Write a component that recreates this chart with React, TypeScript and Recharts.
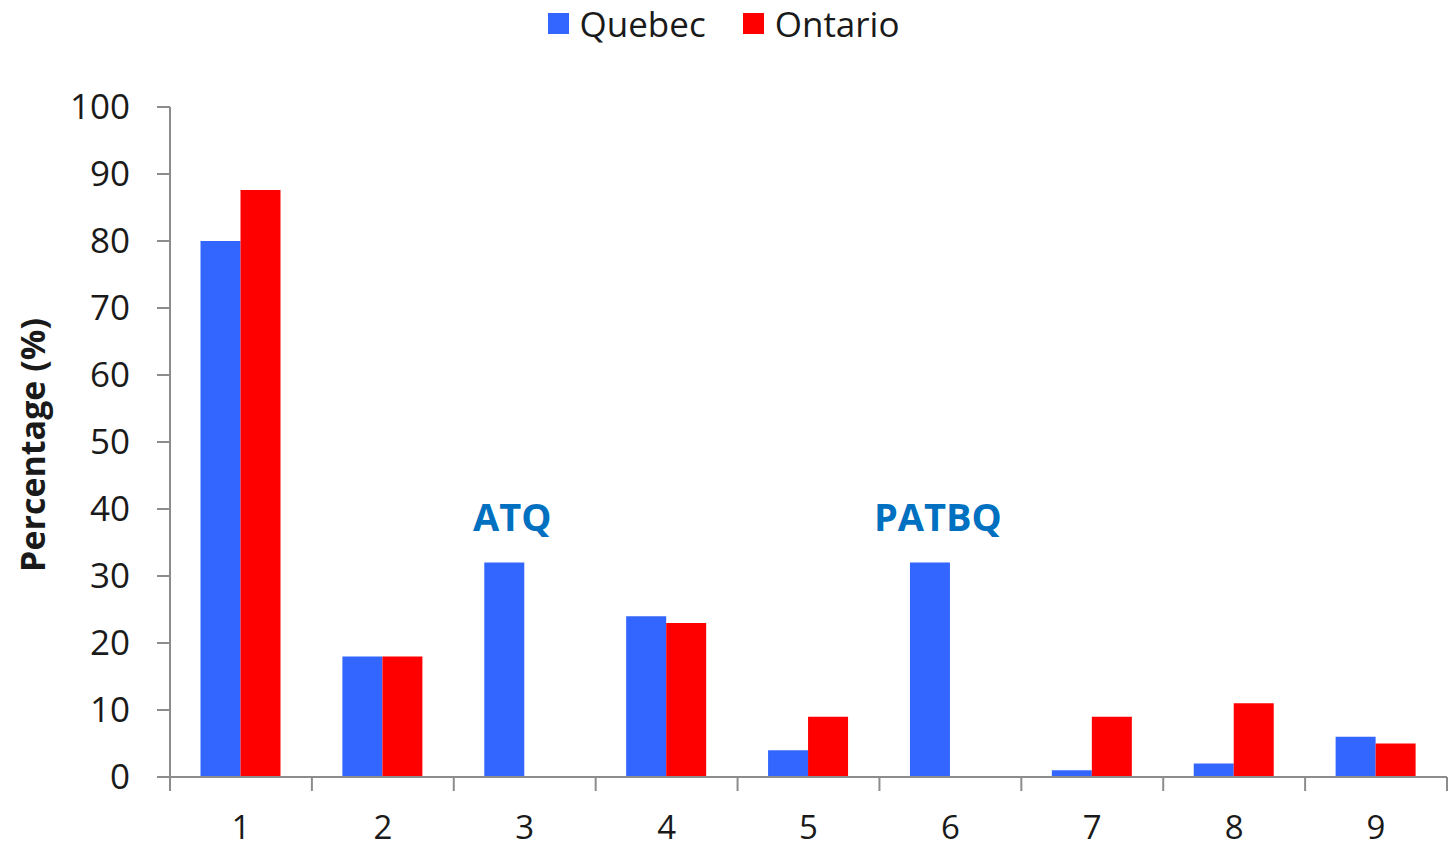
import React from 'react';
import { BarChart, Bar, XAxis, YAxis, Legend, LabelList } from 'recharts';

const categories = ['1', '2', '3', '4', '5', '6', '7', '8', '9'];
const seriesNames = ['Quebec', 'Ontario'];
const quebec = [80, 18, 32, 24, 4, 32, 1, 2, 6];
const ontario = [87.6, 18, 0, 23, 9, 0, 9, 11, 5];
const annotations = ['', '', 'ATQ', '', '', 'PATBQ', '', '', ''];
const yTicks = [0, 10, 20, 30, 40, 50, 60, 70, 80, 90, 100];

const data = categories.map((c, i) => ({
  cat: c,
  Quebec: quebec[i],
  Ontario: ontario[i],
  note: annotations[i],
}));

const FONT = '"Open Sans", "Noto Sans", sans-serif';
const AXIS = '#8c8c8c';
const TEXT = '#1a1a1a';

const LegendContent = (props: any) => {
  const items = [...(props.payload || [])].sort(
    (a: any, b: any) => seriesNames.indexOf(a.value) - seriesNames.indexOf(b.value)
  );
  return (
    <div style={{ height: 107, display: 'flex', justifyContent: 'center', alignItems: 'flex-start' }}>
      {items.map((it: any, i: number) => (
        <div
          key={i}
          style={{
            display: 'flex',
            alignItems: 'center',
            marginLeft: i === 0 ? 0 : 37,
            height: 47,
            fontFamily: FONT,
            fontSize: 35,
            color: TEXT,
          }}
        >
          <span style={{ width: 21, height: 21, background: it.color, display: 'inline-block', marginRight: 11 }} />
          <span>{it.value}</span>
        </div>
      ))}
    </div>
  );
};

const XTick = (props: any) => {
  const { x, y, payload, index, visibleTicksCount } = props;
  const half = payload && payload.offset != null ? payload.offset : 0;
  const axisY = y - 39;
  return (
    <g>
      <line x1={x - half} x2={x - half} y1={axisY} y2={axisY + 14} stroke={AXIS} strokeWidth={2} />
      {index === (visibleTicksCount ?? categories.length) - 1 && (
        <line x1={x + half} x2={x + half} y1={axisY} y2={axisY + 14} stroke={AXIS} strokeWidth={2} />
      )}
      <text x={x} y={y} dy="0.71em" textAnchor="middle" fontFamily={FONT} fontSize={33} fill={TEXT}>
        {payload.value}
      </text>
    </g>
  );
};

const NoteLabel = (props: any) => {
  const { x, y, width, index } = props;
  const txt = annotations[index];
  if (!txt) return null;
  return (
    <text
      x={x + width / 2 + 8}
      y={y - 32}
      textAnchor="middle"
      fontFamily={FONT}
      fontWeight={700}
      fontSize={38}
      fill="#0070C0"
    >
      {txt}
    </text>
  );
};

const YLabel = (props: any) => {
  const vb = props.viewBox || { x: 0, y: 0, width: 0, height: 0 };
  const cx = 32;
  const cy = vb.y + vb.height / 2 + 3;
  return (
    <text
      x={cx}
      y={cy}
      transform={`rotate(-90, ${cx}, ${cy})`}
      textAnchor="middle"
      dominantBaseline="central"
      fontFamily={FONT}
      fontWeight={700}
      fontSize={34}
      fill={TEXT}
    >
      Percentage (%)
    </text>
  );
};

export default function App() {
  return (
    <div style={{ position: 'absolute', left: 0, top: 0, width: 1451, height: 850, background: '#fff' }}>
      <BarChart
        width={1451}
        height={850}
        data={data}
        margin={{ top: 0, right: 4, left: 0, bottom: 13 }}
        barCategoryGap="21.5%"
        barGap={0}
      >
        <Legend verticalAlign="top" align="center" content={<LegendContent />} />
        <XAxis
          dataKey="cat"
          height={60}
          tickLine={false}
          tickSize={14}
          tickMargin={25}
          axisLine={{ stroke: AXIS, strokeWidth: 2 }}
          tick={<XTick />}
          interval={0}
        />
        <YAxis
          width={170}
          domain={[0, 100]}
          ticks={yTicks}
          interval={0}
          tickSize={13}
          tickMargin={27}
          axisLine={{ stroke: AXIS, strokeWidth: 2 }}
          tickLine={{ stroke: AXIS, strokeWidth: 2 }}
          tick={{ fontFamily: FONT, fontSize: 35, fill: TEXT }}
          label={<YLabel />}
        />
        <Bar dataKey="Quebec" fill="#3366FF" isAnimationActive={false}>
          <LabelList dataKey="note" content={<NoteLabel />} />
        </Bar>
        <Bar dataKey="Ontario" fill="#FF0000" isAnimationActive={false} />
      </BarChart>
    </div>
  );
}
